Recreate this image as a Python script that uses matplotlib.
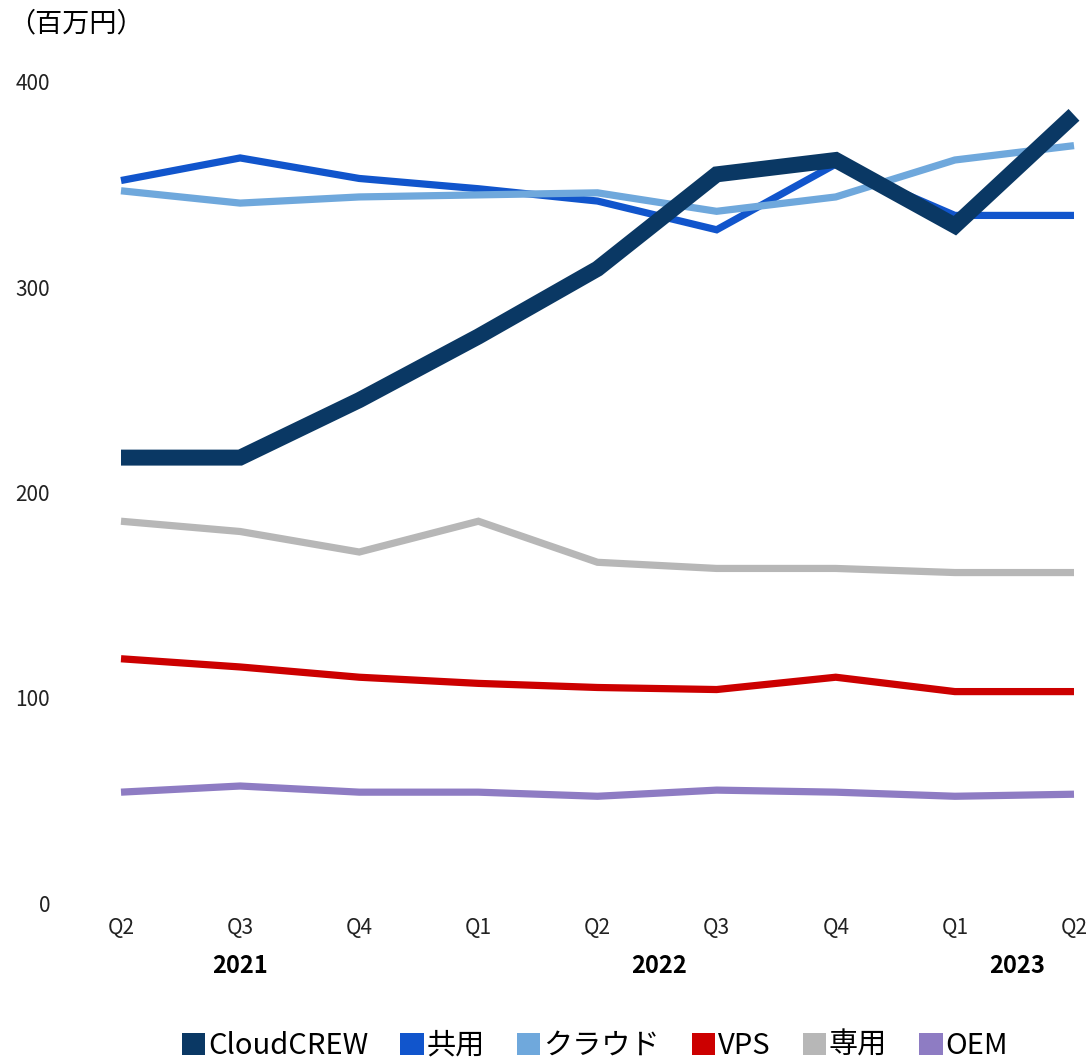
import matplotlib
matplotlib.use("Agg")
import matplotlib.pyplot as plt
from matplotlib.patches import Patch

plt.rcParams["font.family"] = ["Noto Sans CJK JP", "DejaVu Sans"]

quarters = ["Q2", "Q3", "Q4", "Q1", "Q2", "Q3", "Q4", "Q1", "Q2"]
years = ["2021", "2022", "2023"]
year_pos = [1, 4.52, 7.52]

cloudcrew = [217, 217, 245, 276, 309, 355, 362, 330, 384]
kyoyo = [352, 363, 353, 348, 342, 328, 360, 335, 335]
cloud = [347, 341, 344, 345, 346, 337, 344, 362, 369]
vps = [119, 115, 110, 107, 105, 104, 110, 103, 103]
senyo = [186, 181, 171, 186, 166, 163, 163, 161, 161]
oem = [54, 57, 54, 54, 52, 55, 54, 52, 53]

series = [
    ("共用", kyoyo, "#1155cc", 5.2),
    ("クラウド", cloud, "#6fa8dc", 5.2),
    ("VPS", vps, "#cc0000", 5.2),
    ("専用", senyo, "#b7b7b7", 5.2),
    ("OEM", oem, "#8e7cc3", 5.2),
    ("CloudCREW", cloudcrew, "#0a3864", 11.5),
]
legend_order = ["CloudCREW", "共用", "クラウド", "VPS", "専用", "OEM"]

fig = plt.figure(figsize=(10.9, 10.63), dpi=100)
ax = fig.add_axes([121 / 1090, 1 - 903 / 1063, (1074 - 121) / 1090, (903 - 82) / 1063])

x = list(range(len(quarters)))
for name, vals, color, lw in series:
    ax.plot(x, vals, color=color, lw=lw, clip_on=False, solid_capstyle="butt",
            solid_joinstyle="miter")

ax.set_xlim(0, len(quarters) - 1)
ax.set_ylim(0, 400)
ax.set_yticks([0, 100, 200, 300, 400])
ax.set_xticks(x)
ax.set_xticklabels(quarters)
ax.tick_params(axis="both", length=0, labelsize=15, colors="#222222")
ax.tick_params(axis="y", pad=51)
ax.tick_params(axis="x", pad=10)
for lbl in ax.get_yticklabels():
    lbl.set_horizontalalignment("right")
for s in ax.spines.values():
    s.set_visible(False)

for yr, pos in zip(years, year_pos):
    ax.text(pos, -0.062, yr, transform=ax.get_xaxis_transform(), ha="center",
            va="top", fontsize=17, fontweight="bold")

fig.text(8 / 1090, 1 - 24 / 1063, "（百万円）", ha="left", va="center", fontsize=19.5)

colors = {n: c for n, _, c, _ in series}
handles = [Patch(facecolor=colors[n], label=n) for n in legend_order]
fig.legend(handles=handles, loc="center", bbox_to_anchor=(595 / 1090, 1 - 1046 / 1063),
           ncol=6, frameon=False, fontsize=21, handlelength=0.8, handleheight=0.8,
           handletextpad=0.1, columnspacing=1.1)

fig.savefig("out.png", dpi=100)
